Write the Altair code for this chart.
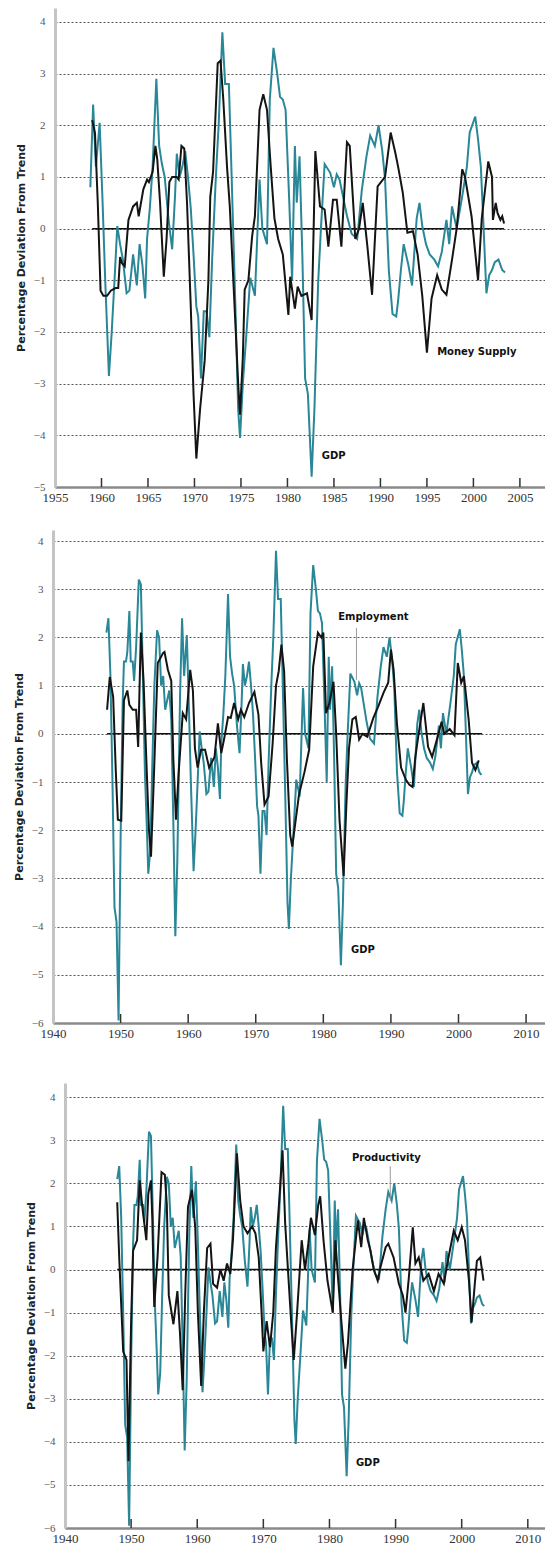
import altair as alt
import pandas as pd

# ---------------- data ----------------
gdp_year = [1947.9, 1948.2, 1948.5, 1948.8, 1949.1, 1949.4, 1949.7, 1950.0, 1950.3, 1950.5, 1950.8, 1951.0,
            1951.3, 1951.5, 1951.8, 1952.0, 1952.3, 1952.7, 1953.0, 1953.3, 1953.6, 1953.9, 1954.1, 1954.4,
            1954.7, 1955.0, 1955.4, 1955.7, 1956.0, 1956.3, 1956.6, 1956.9, 1957.2, 1957.5, 1957.8, 1958.1,
            1958.4, 1958.8, 1959.1, 1959.4, 1959.8, 1960.1, 1960.4, 1960.8, 1961.1, 1961.4, 1961.7, 1962.0,
            1962.3, 1962.7, 1963.0, 1963.4, 1963.8, 1964.1, 1964.4, 1964.7, 1964.9, 1965.2, 1965.5, 1965.9,
            1966.2, 1966.5, 1966.8, 1967.2, 1967.6, 1967.9, 1968.1, 1968.4, 1968.7, 1969.0, 1969.3, 1969.6,
            1969.9, 1970.2, 1970.4, 1970.7, 1971.0, 1971.3, 1971.6, 1971.9, 1972.3, 1972.6, 1973.0, 1973.3,
            1973.7, 1974.0, 1974.4, 1974.7, 1974.9, 1975.2, 1975.6, 1976.0, 1976.5, 1977.0, 1977.3, 1977.8,
            1978.1, 1978.5, 1978.9, 1979.2, 1979.5, 1979.8, 1980.2, 1980.5, 1980.8, 1981.0, 1981.3, 1981.6,
            1981.9, 1982.2, 1982.6, 1982.9, 1983.3, 1983.6, 1984.0, 1984.6, 1985.0, 1985.3, 1985.6, 1986.0,
            1986.4, 1986.9, 1987.5, 1988.0, 1988.5, 1988.9, 1989.4, 1989.8, 1990.2, 1990.5, 1990.9, 1991.3,
            1991.7, 1991.9, 1992.2, 1992.5, 1993.0, 1993.4, 1993.9, 1994.2, 1994.5, 1994.9, 1995.3, 1995.8,
            1996.2, 1996.6, 1997.1, 1997.4, 1997.7, 1998.2, 1998.8, 1999.3, 1999.6, 2000.2, 2000.5, 2000.8,
            2001.0, 2001.4, 2001.7, 2002.0, 2002.3, 2002.7, 2003.1, 2003.4]
gdp_val = [2.1, 2.4, 1.2, -1.0, -3.6, -3.9, -5.95, -2.2, 0.6, 1.5, 1.5, 1.7,
           2.55, 1.5, 1.5, 1.1, 1.8, 3.2, 3.1, 1.2, -0.8, -2.0, -2.9, -2.4,
           -0.6, 1.0, 2.15, 2.0, 1.0, 1.2, 0.5, 0.7, 0.9, 0.3, -1.8, -4.2,
           -2.6, 0.8, 2.4, 1.2, 2.05, 0.6, -1.0, -2.85, -2.0, -1.0, 0.05, -0.3,
           -0.6, -1.25, -1.2, -0.5, -1.1, -0.3, -0.7, -1.35, -0.2, 0.4, 1.2, 2.9,
           1.6, 1.25, 1.0, 0.2, -0.4, 0.6, 1.45, 1.0, 1.2, 1.5, 1.0, 0.4,
           -0.5, -1.5, -1.7, -2.9, -1.6, -1.6, -2.1, -0.6, 1.0, 2.0, 3.8, 2.8,
           2.8, 1.0, -1.5, -3.5, -4.05, -3.0, -2.0, -0.95, -1.3, 0.95, 0.0, -0.3,
           2.5, 3.5, 3.0, 2.55, 2.5, 2.3, 0.5, -1.0, 1.6, 0.5, 1.4, -0.5,
           -2.9, -3.2, -4.8, -3.5, -1.05, 0.0, 1.25, 1.08, 0.8, 1.05, 0.95, 0.6,
           0.25, -0.1, -0.2, 0.75, 1.4, 1.8, 1.6, 2.0, 1.5, 0.95, -0.8, -1.65,
           -1.7, -1.4, -0.8, -0.3, -0.7, -1.1, 0.2, 0.5, 0.05, -0.3, -0.5, -0.6,
           -0.73, -0.45, 0.17, -0.3, 0.43, 0.0, 0.63, 1.2, 1.86, 2.17, 1.73, 1.2,
           0.4, -1.25, -0.9, -0.8, -0.65, -0.6, -0.8, -0.85]

money_year = [1959.0, 1959.3, 1959.6, 1959.9, 1960.2, 1960.6, 1961.0, 1961.5, 1961.8, 1962.0, 1962.2, 1962.5,
              1962.9, 1963.4, 1963.8, 1964.0, 1964.5, 1964.9, 1965.1, 1965.5, 1965.8, 1966.0, 1966.3, 1966.7,
              1967.0, 1967.3, 1967.6, 1968.1, 1968.3, 1968.6, 1968.9, 1969.2, 1969.6, 1969.9, 1970.2, 1970.6,
              1971.1, 1971.5, 1971.7, 1972.0, 1972.5, 1972.8, 1973.1, 1973.5, 1973.8, 1974.1, 1974.4, 1974.7,
              1974.9, 1975.2, 1975.4, 1975.8, 1976.2, 1976.5, 1977.0, 1977.4, 1977.8, 1978.2, 1978.6, 1979.0,
              1979.5, 1980.1, 1980.3, 1980.8, 1981.1, 1981.5, 1982.1, 1982.6, 1983.0, 1983.5, 1984.0, 1984.4,
              1984.9, 1985.3, 1985.8, 1986.4, 1986.7, 1987.3, 1987.7, 1988.1, 1988.6, 1989.1, 1989.7, 1990.5,
              1991.1, 1991.6, 1991.9, 1992.4, 1992.9, 1993.5, 1994.0, 1994.5, 1995.0, 1995.5, 1996.1, 1996.6,
              1997.1, 1997.7, 1998.2, 1998.8, 1999.1, 1999.8, 2000.5, 2000.9, 2001.6, 2002.0, 2002.1, 2002.4,
              2002.6, 2002.9, 2003.1, 2003.3]
money_val = [2.1, 1.85, 0.5, -1.2, -1.3, -1.3, -1.2, -1.15, -1.15, -0.55, -0.67, -0.73,
             0.17, 0.43, 0.5, 0.24, 0.76, 0.95, 0.9, 1.1, 1.6, 1.34, 0.5, -0.93,
             -0.2, 0.9, 1.0, 1.0, 0.95, 1.6, 1.55, 0.5, -1.5, -3.2, -4.45, -3.5,
             -2.55, -1.0, 0.62, 1.1, 3.2, 3.25, 2.5, 1.2, 0.43, -0.7, -1.83, -3.0,
             -3.6, -2.5, -1.18, -1.0, -0.15, 0.24, 2.3, 2.6, 2.3, 1.2, 0.2, -0.2,
             -0.5, -1.67, -0.93, -1.55, -1.12, -1.3, -1.25, -1.77, 1.5, 0.43, 0.37, -0.35,
             0.56, 0.56, -0.35, 1.67, 1.6, -0.2, 0.0, 0.5, -0.35, -1.28, 0.82, 1.0,
             1.86, 1.47, 1.2, 0.7, -0.08, -0.05, -0.5, -1.3, -2.4, -1.35, -0.9, -1.18,
             -1.28, -0.6, 0.0, 1.15, 1.0, 0.24, -1.0, 0.2, 1.3, 1.0, 0.17, 0.5,
             0.3, 0.17, 0.24, 0.1]

emp_year = [1948.0, 1948.4, 1948.9, 1949.3, 1949.6, 1950.1, 1950.5, 1951.0, 1951.3, 1951.8, 1952.3, 1952.6,
            1953.0, 1953.4, 1953.8, 1954.2, 1954.5, 1954.9, 1955.5, 1956.3, 1956.5, 1957.0, 1957.5, 1957.8,
            1958.2, 1958.6, 1959.2, 1959.7, 1960.3, 1960.7, 1961.0, 1961.4, 1961.9, 1962.5, 1963.1, 1963.9,
            1964.4, 1964.9, 1965.3, 1965.9, 1966.3, 1966.8, 1967.4, 1967.8, 1968.3, 1969.0, 1969.8, 1970.4,
            1970.8, 1971.3, 1971.9, 1972.5, 1973.0, 1973.4, 1973.8, 1974.2, 1974.6, 1975.1, 1975.4, 1975.9,
            1976.4, 1977.2, 1977.9, 1978.5, 1979.2, 1979.7, 1980.0, 1980.4, 1980.9, 1981.5, 1981.9, 1982.4,
            1983.0, 1983.4, 1983.8, 1984.3, 1984.8, 1985.3, 1985.8, 1986.5, 1987.4, 1988.1, 1988.9, 1989.6,
            1990.0, 1990.4, 1990.9, 1991.5, 1992.2, 1992.7, 1993.2, 1993.6, 1994.1, 1994.8, 1995.5, 1996.1,
            1996.8, 1997.5, 1997.9, 1998.7, 1999.4, 1999.9, 2000.4, 2000.8, 2001.5, 2002.0, 2002.5, 2003.0]
emp_val = [0.5, 1.18, 0.77, -0.8, -1.78, -1.8, 0.7, 0.9, 0.6, 0.5, 0.5, -0.27,
           2.1, 1.1, -0.5, -2.0, -2.55, -1.0, 1.47, 1.68, 1.7, 1.33, 1.1, -0.5,
           -1.78, -0.8, 0.43, 0.3, 1.33, 0.9, -0.3, -0.7, -0.33, -0.33, -0.7, -0.48,
           0.22, -0.4, -0.12, 0.35, 0.33, 0.64, 0.3, 0.5, 0.35, 0.64, 0.87, 0.4,
           -0.6, -1.47, -1.3, -0.2, 1.0, 1.3, 1.85, 1.3, -0.5, -2.1, -2.34, -1.8,
           -1.26, -0.8, -0.33, 1.4, 2.1, 2.0, 2.1, 0.43, 0.64, 1.08, 0.0, -1.8,
           -2.95, -1.5, -0.3, 0.3, 0.35, -0.12, 0.0, -0.06, 0.33, 0.56, 0.85, 1.06,
           1.75, 1.33, 0.2, -0.7, -0.95, -1.05, -1.1, -0.5, 0.0, 0.64, -0.27, -0.48,
           -0.12, 0.25, 0.0, 0.1, -0.03, 1.47, 1.06, 1.2, 0.3, -0.6, -0.75, -0.55]

prod_year = [1947.9, 1948.2, 1948.5, 1948.8, 1949.3, 1949.6, 1950.0, 1950.3, 1950.9, 1951.3, 1951.7, 1952.3,
             1952.6, 1953.0, 1953.2, 1953.5, 1954.0, 1954.6, 1955.1, 1955.4, 1955.7, 1956.4, 1957.0, 1957.4,
             1957.8, 1958.2, 1958.6, 1959.2, 1959.7, 1960.1, 1960.6, 1961.0, 1961.5, 1962.0, 1962.4, 1963.0,
             1963.5, 1964.0, 1964.5, 1965.0, 1965.4, 1966.0, 1966.5, 1967.0, 1967.6, 1968.3, 1968.8, 1969.3,
             1969.7, 1970.0, 1970.5, 1971.0, 1971.5, 1971.9, 1972.4, 1972.9, 1973.3, 1973.8, 1974.2, 1974.6,
             1975.1, 1975.8, 1976.3, 1976.8, 1977.2, 1977.8, 1978.3, 1978.6, 1979.1, 1979.7, 1980.5, 1980.9,
             1981.2, 1981.8, 1982.4, 1982.8, 1983.5, 1984.3, 1984.8, 1985.2, 1985.8, 1986.2, 1986.7, 1987.3,
             1987.7, 1988.5, 1988.9, 1989.7, 1990.5, 1991.1, 1991.5, 1992.0, 1992.6, 1993.0, 1993.5, 1994.2,
             1995.0, 1995.8, 1996.5, 1997.3, 1998.0, 1998.8, 1999.4, 2000.0, 2000.5, 2001.1, 2001.5, 2002.0,
             2002.3, 2002.8, 2003.3]
prod_val = [1.56, 0.28, -0.8, -1.9, -2.1, -4.45, -1.2, 0.44, 0.68, 2.07, 1.45, 0.68,
            1.76, 2.07, 1.2, -0.87, 0.3, 2.26, 2.2, 1.5, -0.6, -1.27, -0.5, -1.5,
            -2.8, -0.5, 1.45, 1.85, 0.98, -1.0, -2.7, -1.0, 0.5, 0.6, -0.33, -0.42,
            0.0, -0.26, 0.14, -0.1, 0.68, 2.7, 1.6, 1.0, 0.84, 1.0, 0.84, 0.28,
            -0.9, -1.9, -1.2, -1.8, -1.0, 0.5, 1.6, 2.77, 1.07, -0.2, -1.2, -2.1,
            -1.0, 0.68, 0.0, 0.6, 1.2, 0.8, 1.5, 1.7, 0.68, -0.26, -1.0, 0.68,
            0.0, -1.2, -2.3, -1.7, 0.0, 1.14, 0.52, 1.2, 0.68, 0.44, 0.0, -0.26,
            0.05, 0.52, 0.6, 0.28, -0.33, -0.6, -1.0, -0.2, 0.98, 0.14, 0.28, -0.26,
            -0.1, -0.5, -0.1, -0.33, 0.28, 0.9, 0.68, 0.98, 0.68, -0.26, -1.23, -0.3,
            0.2, 0.28, -0.26]

# panel-specific texts / axes
y_title = "Percentage Deviation From Trend"
p1_xticks = [1955, 1960, 1965, 1970, 1975, 1980, 1985, 1990, 1995, 2000, 2005]
p23_xticks = [1940, 1950, 1960, 1970, 1980, 1990, 2000, 2010]
p1_yticks = [-5, -4, -3, -2, -1, 0, 1, 2, 3, 4]
p23_yticks = [-6, -5, -4, -3, -2, -1, 0, 1, 2, 3, 4]

p1_labels = {"text": ["Money Supply", "GDP"], "year": [1996.1, 1983.7], "value": [-2.39, -4.4]}
p2_labels = {"text": ["Employment", "GDP"], "year": [1982.2, 1984.1], "value": [2.43, -4.48]}
p3_labels = {"text": ["Productivity", "GDP"], "year": [1983.4, 1984.0], "value": [2.6, -4.49]}
p2_leader = {"year": [1984.9], "v1": [2.2], "v2": [1.12]}
p3_leader = {"year": [1989.2], "v1": [2.4], "v2": [1.6]}

p1_zero = [1959.0, 2003.3]
p2_zero = [1948.0, 2003.5]
p3_zero = [1947.9, 2003.3]

TEAL = "#2a8797"
BLACK = "#141414"
LEFT = 53      # common left extent of every panel (px)
W = 492        # common plot width (px)

gdp_df = pd.DataFrame({"year": gdp_year, "value": gdp_val})


def panel(other_year, other_val, gdp_from, x_dom, y_dom, inset, h, xticks, yticks,
          labels, leader, zero, top, bottom):
    gdf = gdp_df[gdp_df["year"] >= gdp_from]
    odf = pd.DataFrame({"year": other_year, "value": other_val})
    xs = alt.Scale(domain=x_dom, range=[inset, W], nice=False, zero=False)
    ys = alt.Scale(domain=y_dom, nice=False, zero=False)
    x_enc = alt.X("year:Q", scale=xs, title=None,
                  axis=alt.Axis(values=xticks, format="d", grid=False, ticks=False, tickSize=0,
                                domainColor="#8a8a8a", domainWidth=2.5, labelFont="Liberation Serif",
                                labelFontSize=13, labelColor="#333333", labelPadding=4,
                                labelFlush=False, labelOverlap=False))
    y_enc = alt.Y("value:Q", scale=ys, title=y_title,
                  axis=alt.Axis(values=yticks, format="d", grid=True, gridDash=[2, 2],
                                gridColor="#555555", gridWidth=1, ticks=False, tickSize=0,
                                domainColor="#c4c4c4", domainWidth=3, offset=-inset,
                                labelFont="Liberation Serif", labelFontSize=11,
                                labelColor="#555555", labelPadding=10,
                                titleFont="DejaVu Sans", titleFontWeight="bold",
                                titleFontSize=11, titleColor="#222222", titlePadding=7))

    zero_df = pd.DataFrame({"x1": [zero[0]], "x2": [zero[1]], "value": [0.0]})
    zero_line = alt.Chart(zero_df).mark_rule(color="#111111", strokeWidth=1.5).encode(
        x=alt.X("x1:Q", scale=xs), x2="x2:Q", y=alt.Y("value:Q", scale=ys))

    g_line = alt.Chart(gdf).mark_line(color=TEAL, strokeWidth=2).encode(x=x_enc, y=y_enc)
    o_line = alt.Chart(odf).mark_line(color=BLACK, strokeWidth=2).encode(x=x_enc, y=y_enc)

    tick_df = pd.DataFrame({"year": xticks[1:]})
    tick_rules = alt.Chart(tick_df).mark_rule(color="#333333", strokeWidth=1.5).encode(
        x=alt.X("year:Q", scale=xs), y=alt.value(h), y2=alt.value(h - 9))

    lab = alt.Chart(pd.DataFrame(labels)).mark_text(
        align="left", baseline="middle", font="DejaVu Sans", fontWeight="bold",
        fontSize=10, color="#111111").encode(
        x=alt.X("year:Q", scale=xs), y=alt.Y("value:Q", scale=ys), text="text:N")

    spacer = alt.Chart(pd.DataFrame({"a": [0]})).mark_rule(opacity=0, strokeWidth=0.01).encode(
        x=alt.value(-LEFT), y=alt.value(-top), y2=alt.value(h + bottom))

    layers = [zero_line, g_line, o_line, tick_rules, lab, spacer]
    if leader is not None:
        lead = alt.Chart(pd.DataFrame(leader)).mark_rule(color="#9a9a9a", strokeWidth=1).encode(
            x=alt.X("year:Q", scale=xs), y=alt.Y("v1:Q", scale=ys), y2="v2:Q")
        layers.insert(4, lead)
    return alt.layer(*layers).properties(width=W, height=h)


p1 = panel(money_year, money_val, 1958.7, [1955, 2007.7], [-5, 4.27], 2, 479,
           p1_xticks, p1_yticks, p1_labels, None, p1_zero, 0, 22)
p2 = panel(emp_year, emp_val, 1940, [1940, 2012.8], [-6, 4.23], 0, 493,
           p23_xticks, p23_yticks, p2_labels, p2_leader, p2_zero, 21, 22)
p3 = panel(prod_year, prod_val, 1940, [1940, 2012.6], [-6, 4.33], 12, 445,
           p23_xticks, p23_yticks, p3_labels, p3_leader, p3_zero, 38, 0)

chart = alt.concat(p1, p2, p3, columns=1, spacing=0, align="none", bounds="full").properties(
    padding={"left": 0, "top": 8, "right": 0, "bottom": 0}
).configure_view(stroke=None)

chart.save("out.html", embed_options={"renderer": "svg", "actions": False})
